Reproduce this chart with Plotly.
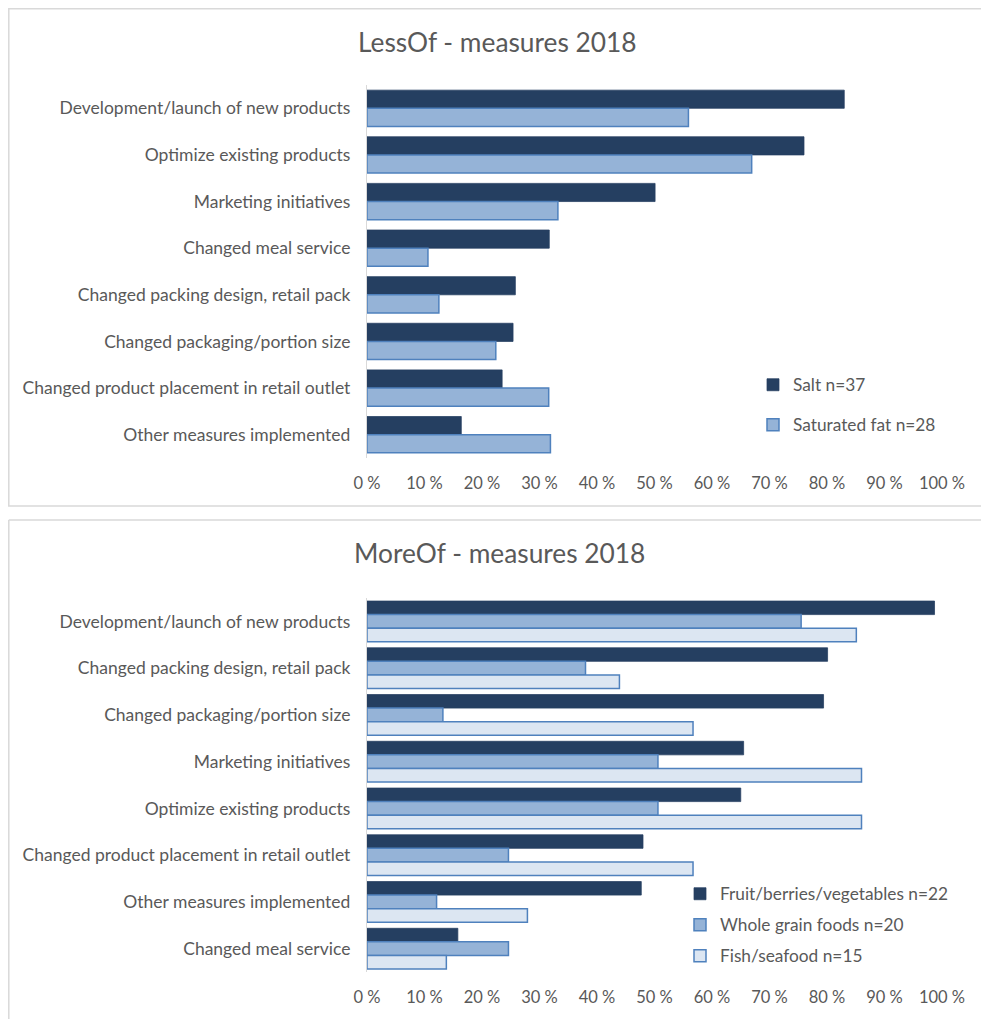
import plotly.graph_objects as go

# ---------------- data ----------------
less_categories = [
    "Development/launch of new products",
    "Optimize existing products",
    "Marketing initiatives",
    "Changed meal service",
    "Changed packing design, retail pack",
    "Changed packaging/portion size",
    "Changed product placement in retail outlet",
    "Other measures implemented",
]
salt = [83.0, 76.0, 50.1, 31.7, 25.8, 25.4, 23.5, 16.4]
saturated_fat = [55.9, 66.9, 33.2, 10.6, 12.5, 22.4, 31.6, 31.9]

more_categories = [
    "Development/launch of new products",
    "Changed packing design, retail pack",
    "Changed packaging/portion size",
    "Marketing initiatives",
    "Optimize existing products",
    "Changed product placement in retail outlet",
    "Other measures implemented",
    "Changed meal service",
]
fruit_veg = [98.7, 80.1, 79.4, 65.5, 65.0, 48.0, 47.7, 15.8]
whole_grain = [75.5, 38.0, 13.2, 50.6, 50.6, 24.6, 12.1, 24.6]
fish_seafood = [85.1, 43.9, 56.7, 86.0, 86.0, 56.7, 27.9, 13.8]

tick_values = [0, 10, 20, 30, 40, 50, 60, 70, 80, 90, 100]
tick_labels = ["0 %", "10 %", "20 %", "30 %", "40 %", "50 %", "60 %", "70 %", "80 %", "90 %", "100 %"]

# ---------------- style ----------------
OFF = 8                      # page body margin of the browser
W, H = 989 - OFF, 1019 - OFF
FONT = "Lato"
TXT = "#595959"
DARK = "#253F61"
MID = "#95B3D7"
LIGHT = "#DCE6F2"
EDGE = "#4F81BD"
GRID = "#D9D9D9"


def px_x(p):
    return (p - OFF) / W


def px_y(p):
    return 1 - (p - OFF) / H


fig = go.Figure()

# top chart
fig.add_trace(go.Bar(
    y=less_categories, x=salt, orientation="h", name="Salt n=37",
    marker=dict(color=DARK, line=dict(color=DARK, width=0.75)),
    width=0.39, offset=-0.39, xaxis="x", yaxis="y",
    legend="legend", legendgroup="a", hoverinfo="x+y",
))
fig.add_trace(go.Bar(
    y=less_categories, x=saturated_fat, orientation="h", name="Saturated fat n=28",
    marker=dict(color=MID, line=dict(color=EDGE, width=1.5)),
    width=0.39, offset=0.0, xaxis="x", yaxis="y",
    legend="legend", legendgroup="b", hoverinfo="x+y",
))

# bottom chart
fig.add_trace(go.Bar(
    y=more_categories, x=fruit_veg, orientation="h", name="Fruit/berries/vegetables n=22",
    marker=dict(color=DARK, line=dict(color=DARK, width=0.75)),
    width=0.29, offset=-0.435, xaxis="x2", yaxis="y2",
    legend="legend2", legendgroup="c", hoverinfo="x+y",
))
fig.add_trace(go.Bar(
    y=more_categories, x=whole_grain, orientation="h", name="Whole grain foods n=20",
    marker=dict(color=MID, line=dict(color=EDGE, width=1.5)),
    width=0.29, offset=-0.145, xaxis="x2", yaxis="y2",
    legend="legend2", legendgroup="d", hoverinfo="x+y",
))
fig.add_trace(go.Bar(
    y=more_categories, x=fish_seafood, orientation="h", name="Fish/seafood n=15",
    marker=dict(color=LIGHT, line=dict(color=EDGE, width=1.5)),
    width=0.29, offset=0.145, xaxis="x2", yaxis="y2",
    legend="legend2", legendgroup="e", hoverinfo="x+y",
))

xdom = [px_x(367), px_x(942)]
xaxis_common = dict(
    domain=xdom, range=[0, 100], tickmode="array", tickvals=tick_values, ticktext=tick_labels,
    showgrid=False, zeroline=False, showline=False, ticks="", automargin=False,
    tickfont=dict(family=FONT, size=16.5, color=TXT), ticklabelstandoff=13, fixedrange=True,
)
yaxis_common = dict(
    type="category", autorange="reversed", showgrid=False, zeroline=False,
    showline=True, linecolor=GRID, linewidth=1.2, ticks="", automargin=False,
    tickfont=dict(family=FONT, size=17.5, color=TXT), ticklabelstandoff=12, fixedrange=True,
)

legend_common = dict(
    xref="container", yref="container", xanchor="left", yanchor="top",
    font=dict(family=FONT, size=17.3, color=TXT), bgcolor="rgba(0,0,0,0)",
    traceorder="grouped", itemwidth=30,
)

fig.update_layout(
    width=W, height=H,
    margin=dict(l=0, r=0, t=0, b=0, autoexpand=False),
    paper_bgcolor="white", plot_bgcolor="white",
    barmode="overlay",
    font=dict(family=FONT, color=TXT),
    xaxis=dict(anchor="y", **xaxis_common),
    yaxis=dict(anchor="x", domain=[px_y(458), px_y(85)],
               categoryorder="array", categoryarray=less_categories, **yaxis_common),
    xaxis2=dict(anchor="y2", **xaxis_common),
    yaxis2=dict(anchor="x2", domain=[px_y(972), px_y(598)],
                categoryorder="array", categoryarray=more_categories, **yaxis_common),
    legend=dict(x=px_x(753), y=px_y(367), tracegroupgap=14.5, **legend_common),
    legend2=dict(x=px_x(680), y=px_y(876), tracegroupgap=5.5, **legend_common),
    annotations=[
        dict(text="LessOf - measures 2018", x=px_x(497.5), y=px_y(42), xref="paper", yref="paper",
             xanchor="center", yanchor="middle", showarrow=False,
             font=dict(family=FONT, size=26.3, color=TXT)),
        dict(text="MoreOf - measures 2018", x=px_x(499), y=px_y(553), xref="paper", yref="paper",
             xanchor="center", yanchor="middle", showarrow=False,
             font=dict(family=FONT, size=26.3, color=TXT)),
    ],
    shapes=[
        dict(type="rect", xref="paper", yref="paper", x0=px_x(8.8), x1=px_x(987.5), y0=px_y(506), y1=px_y(8.8),
             line=dict(color=GRID, width=1.5), fillcolor="rgba(0,0,0,0)", layer="below"),
        dict(type="line", xref="paper", yref="paper", x0=px_x(8.8), x1=px_x(8.8), y0=px_y(1030), y1=px_y(520),
             line=dict(color=GRID, width=1.5)),
        dict(type="line", xref="paper", yref="paper", x0=px_x(8.8), x1=px_x(987.5), y0=px_y(520), y1=px_y(520),
             line=dict(color=GRID, width=1.5)),
        dict(type="line", xref="paper", yref="paper", x0=px_x(987.5), x1=px_x(987.5), y0=px_y(1030), y1=px_y(520),
             line=dict(color=GRID, width=1.5)),
    ],
)

fig.write_html("out.html")
